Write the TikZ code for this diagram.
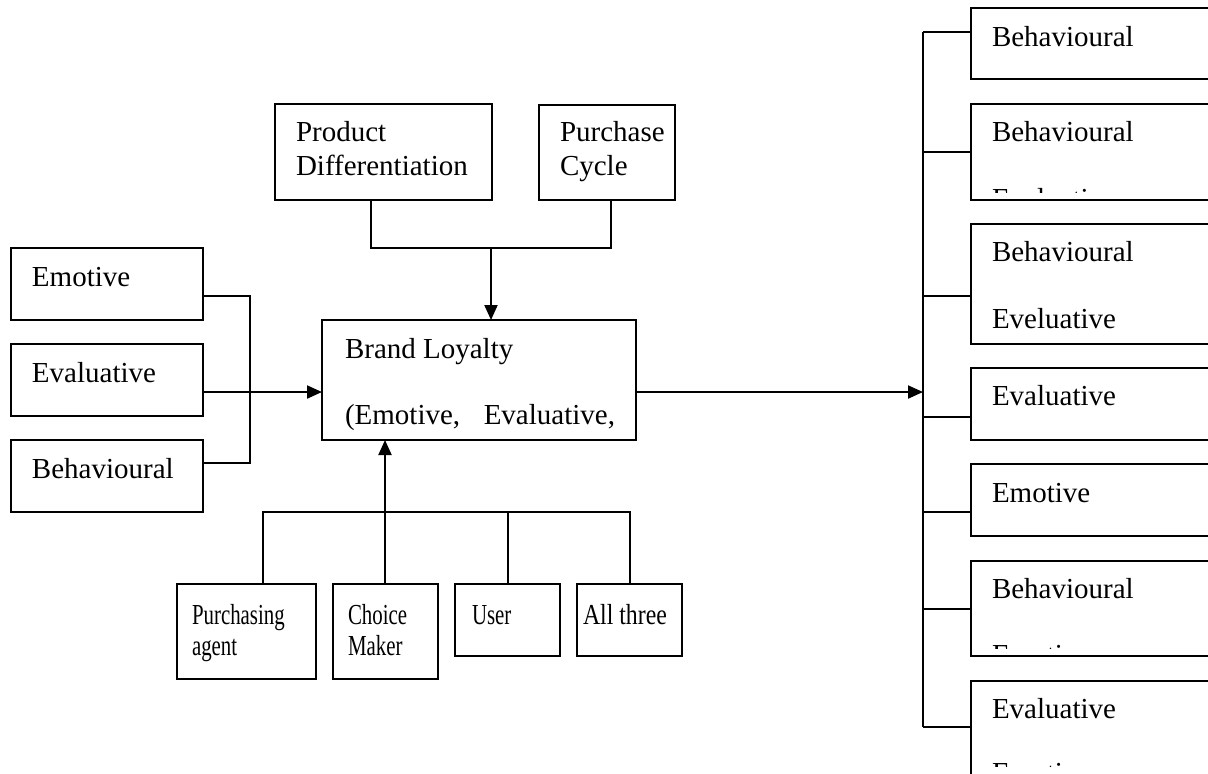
\documentclass[tikz,border=0pt]{standalone}
\usepackage{fontspec}
\setmainfont{Liberation Serif}
\usepackage{graphicx}
\usetikzlibrary{arrows.meta}
\tikzset{
  boxst/.style={draw, line width=1pt, inner sep=0pt, outer sep=0pt, rectangle},
  ln/.style={line width=1pt},
  arr/.style={line width=1pt, -{Triangle[length=7.5pt,width=6.5pt]}},
  txt/.style={anchor=base west, inner sep=0pt, outer sep=0pt, font=\fontsize{14.5}{17}\selectfont}
}
\newcommand\bx[5]{\node[boxst, minimum width={(#4-#2)*0.5pt}, minimum height={(#5-#3)*0.5pt}] (#1) at ({(#2+#4)/2},{(#3+#5)/2}) {};}
\begin{document}
\begin{tikzpicture}[x=0.5pt,y=-0.5pt]
\clip (0,0) rectangle (1208,773);
\fill[white] (0,0) rectangle (1208,773);
% left boxes
\bx{emo}{11}{248}{203}{320}
\bx{eva}{11}{344}{203}{416}
\bx{beh}{11}{440}{203}{512}
\node[txt] (temo) at (32,286) {Emotive};
\node[txt] (teva) at (32,382) {Evaluative};
\node[txt] (tbeh) at (32,478) {Behavioural};
% top boxes
\bx{pd}{275}{104}{492}{200}
\bx{pc}{539}{105}{675}{200}
\node[txt] (tpd1) at (296,141) {Product};
\node[txt] (tpd2) at (296,175) {Differentiation};
\node[txt] (tpc1) at (560,141) {Purchase};
\node[txt] (tpc2) at (560,175) {Cycle};
% brand
\bx{brand}{322}{320}{636}{440}
\node[txt] (tbr1) at (345,358) {Brand Loyalty};
\node[txt] (tbr2) at (345,424) {\makebox[135pt][s]{(Emotive, Evaluative,}};
% bottom boxes
\bx{pa}{177}{584}{316}{679}
\bx{cm}{333}{584}{438}{679}
\bx{user}{455}{584}{560}{656}
\bx{all}{577}{584}{682}{656}
\node[txt] (tpa1) at (192,624) {\scalebox{0.72}[1]{Purchasing}};
\node[txt] (tpa2) at (192,655) {\scalebox{0.72}[1]{agent}};
\node[txt] (tcm1) at (348,624) {\scalebox{0.72}[1]{Choice}};
\node[txt] (tcm2) at (348,655) {\scalebox{0.72}[1]{Maker}};
\node[txt] (tus) at (472,624) {\scalebox{0.72}[1]{User}};
\node[txt] (tal) at (583,624) {\scalebox{0.82}[1]{All three}};
% right clipped second lines
\begin{scope}
\clip (971,104) rectangle (1208,192);
\node[txt] (tr2b) at (992,208) {Evaluative};
\end{scope}
\begin{scope}
\clip (971,561) rectangle (1208,648);
\node[txt] (tr6b) at (992,664) {Emotive};
\end{scope}
\begin{scope}
\clip (971,681) rectangle (1208,766);
\node[txt] (tr7b) at (992,782) {Emotive};
\end{scope}
% right boxes
\bx{r1}{971}{8}{1220}{79}
\bx{r2}{971}{104}{1220}{200}
\bx{r3}{971}{224}{1220}{344}
\bx{r4}{971}{368}{1220}{440}
\bx{r5}{971}{464}{1220}{536}
\bx{r6}{971}{561}{1220}{656}
\bx{r7}{971}{681}{1220}{800}
\node[txt] (tr1) at (992,46) {Behavioural};
\node[txt] (tr2) at (992,141) {Behavioural};
\node[txt] (tr3a) at (992,261) {Behavioural};
\node[txt] (tr3b) at (992,328) {Eveluative};
\node[txt] (tr4) at (992,405) {Evaluative};
\node[txt] (tr5) at (992,502) {Emotive};
\node[txt] (tr6) at (992,598) {Behavioural};
\node[txt] (tr7) at (992,718) {Evaluative};
% left connectors
\coordinate (la) at (250,296);
\coordinate (lb) at (250,463);
\coordinate (lev) at (0,392);
\draw[ln] (emo.east |- la) -- (la) -- (lb) -- (beh.east |- lb);
\draw[arr] (eva.east |- lev) -- (brand.west |- lev);
% top connectors
\coordinate (ta) at (371,248);
\coordinate (tb) at (611,248);
\coordinate (tm) at (491,248);
\draw[ln] (pd.south -| ta) -- (ta) -- (tb) -- (pc.south -| tb);
\draw[arr] (tm) -- (brand.north -| tm);
% bottom connectors
\coordinate (ba) at (263,512);
\coordinate (bd) at (630,512);
\coordinate (bc) at (508,512);
\coordinate (bm) at (385,512);
\draw[ln] (pa.north -| ba) -- (ba) -- (bd) -- (all.north -| bd);
\draw[ln] (user.north -| bc) -- (bc);
\draw[arr] (cm.north -| bm) -- (brand.south -| bm);
% right connectors
\coordinate (rt) at (923,32);
\coordinate (rb) at (923,727);
\coordinate (rarr) at (923,392);
\draw[ln] (rt) -- (rb);
\draw[arr] (brand.east |- lev) -- (rarr);
\foreach \i/\yy in {1/32,2/152,3/296,4/417,5/512,6/609,7/727}{
  \coordinate (rj\i) at (923,\yy);
  \draw[ln] (rj\i) -- (r\i.west |- rj\i);
}
\end{tikzpicture}
\end{document}
